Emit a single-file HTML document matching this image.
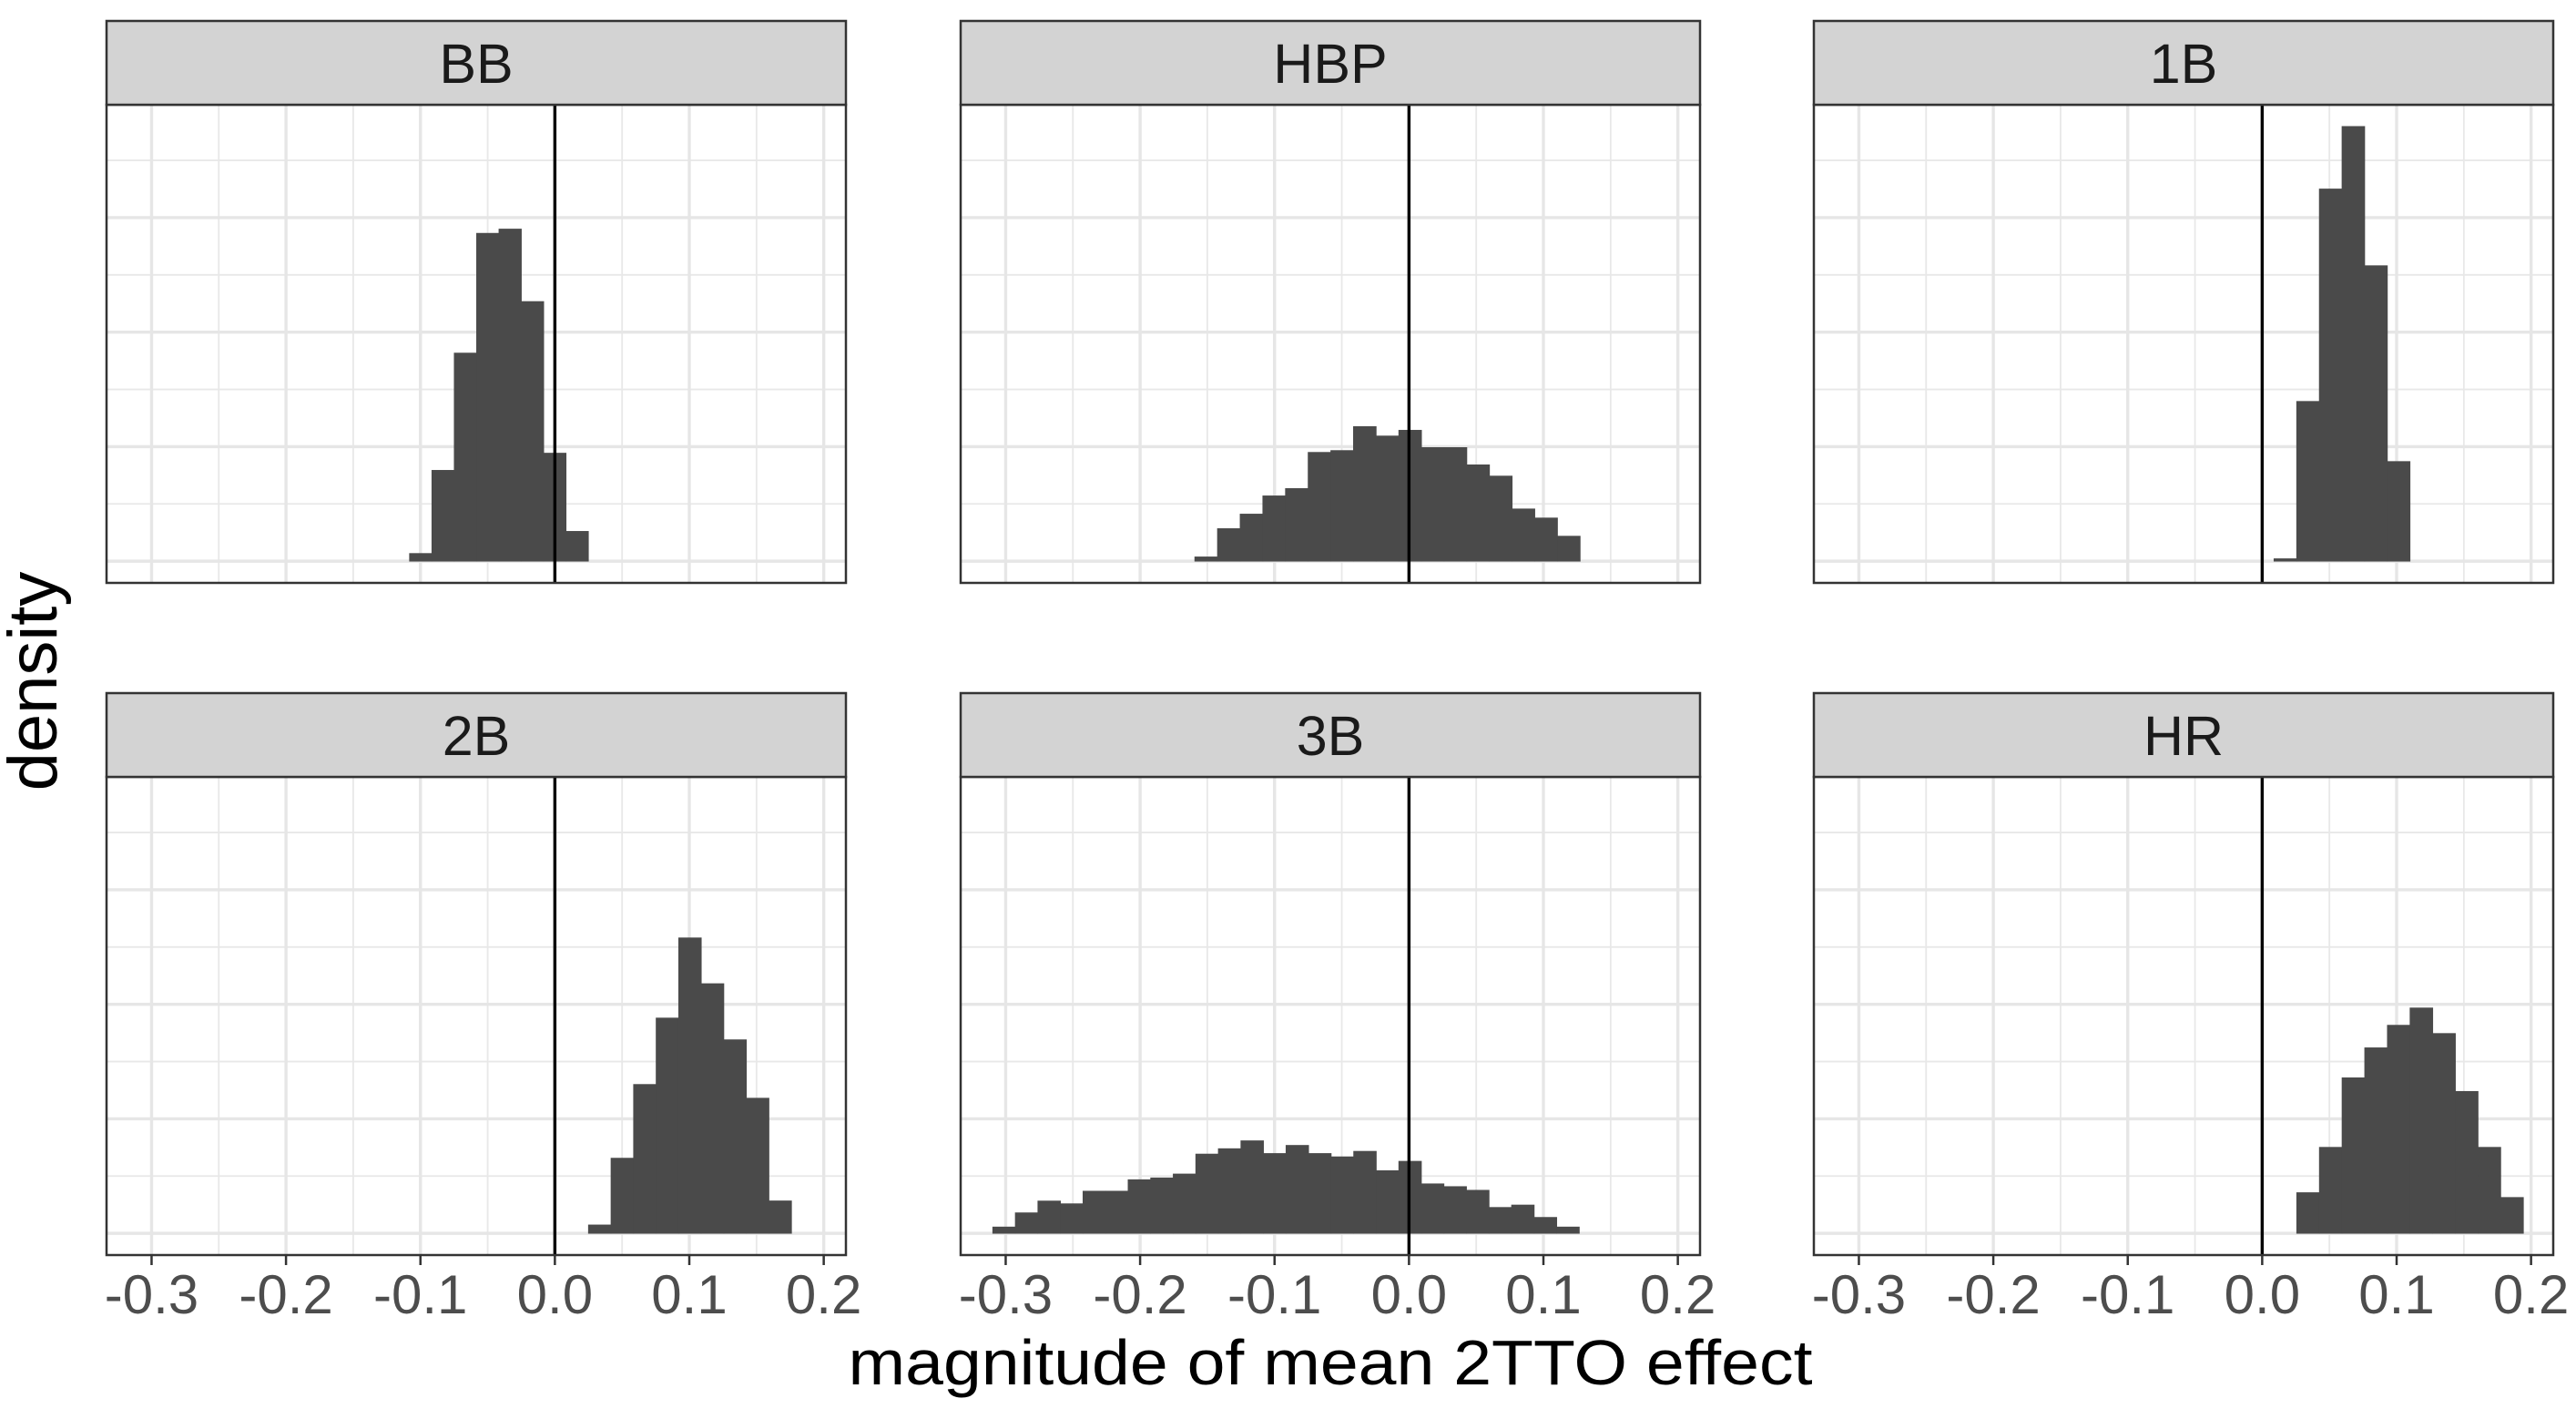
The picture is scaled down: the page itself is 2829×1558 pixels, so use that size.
<!DOCTYPE html>
<html><head><meta charset="utf-8"><style>
html,body{margin:0;padding:0;background:#fff}
svg{display:block}
text{font-family:"Liberation Sans",Arial,sans-serif}
</style></head><body>
<svg id="chart" width="2829" height="1558" viewBox="0 0 2829 1558" xmlns="http://www.w3.org/2000/svg">
<rect width="2829" height="1558" fill="#fff"/>
<text x="1461" y="1520" font-size="70" text-anchor="middle" textLength="1059" lengthAdjust="spacingAndGlyphs" fill="#000">magnitude of mean 2TTO effect</text>
<text transform="translate(62,748) rotate(-90)" font-size="76" text-anchor="middle" fill="#000">density</text>
</svg>
<script>
const panelNames = ["BB","HBP","1B","2B","3B","HR"];
const binStarts = [-0.1081, -0.1593, 0.0088, 0.025, -0.3096, 0.0257];
const binWidths = [0.01663, 0.01686, 0.01686, 0.01678, 0.01678, 0.01686];
const bbHeights = [0.67, 7.93, 18.17, 28.63, 29.0, 22.67, 9.43, 2.6];
const hbpHeights = [0.37, 2.84, 4.11, 5.70, 6.34, 9.50, 9.66, 11.75, 10.93, 11.43, 9.92, 9.92, 8.41, 7.43, 4.56, 3.77, 2.18];
const b1Heights = [0.21, 13.95, 32.5, 37.96, 25.8, 8.7];
const b2Heights = [0.73, 6.56, 13.0, 18.8, 25.8, 21.8, 16.9, 11.8, 2.83];
const b3Heights = [0.55, 1.79, 2.82, 2.58, 3.68, 3.68, 4.68, 4.84, 5.18, 6.92, 7.39, 8.08, 6.97, 7.68, 6.97, 6.68, 7.16, 5.47, 6.29, 4.32, 4.08, 3.76, 2.26, 2.47, 1.39, 0.55];
const hrHeights = [3.55, 7.51, 13.58, 16.2, 18.17, 19.68, 17.45, 12.39, 7.51, 3.13];
const xTicks = [-0.3, -0.2, -0.1, 0.0, 0.1, 0.2];
const xTickLabels = ["-0.3","-0.2","-0.1","0.0","0.1","0.2"];
const xMinor = [-0.25, -0.15, -0.05, 0.05, 0.15];
const yMajor = [0, 10, 20, 30];
const yMinor = [5, 15, 25, 35];

const allHeights = [bbHeights, hbpHeights, b1Heights, b2Heights, b3Heights, hrHeights];
const NS = "http://www.w3.org/2000/svg";
const svg = document.getElementById("chart");
const colLeft = [117, 1055, 1992];
const rowTop = [115, 853];
const stripH = 92;
const PW = 812, PH = 525;
const XMIN = -0.3335, XMAX = 0.2165;
let ymaxData = 0;
allHeights.forEach(a => a.forEach(v => { if (v > ymaxData) ymaxData = v; }));
const YMIN = -0.05 * ymaxData, YMAX = ymaxData * 1.05;

function mk(tag, attrs) {
  const e = document.createElementNS(NS, tag);
  for (const k in attrs) e.setAttribute(k, attrs[k]);
  return e;
}

for (let p = 0; p < 6; p++) {
  const col = p % 3, row = Math.floor(p / 3);
  const L = colLeft[col], T = rowTop[row];
  const xs = v => L + (v - XMIN) / (XMAX - XMIN) * PW;
  const ys = v => T + PH - (v - YMIN) / (YMAX - YMIN) * PH;
  const g = mk("g", {});
  
  
  svg.appendChild(g);
  g.appendChild(mk("rect", {x: L, y: T, width: PW, height: PH, fill: "#fff"}));
  yMinor.forEach(v => g.appendChild(mk("line", {x1: L, x2: L + PW, y1: ys(v), y2: ys(v), stroke: "#e8e8e8", "stroke-width": 1.8})));
  xMinor.forEach(v => g.appendChild(mk("line", {x1: xs(v), x2: xs(v), y1: T, y2: T + PH, stroke: "#e8e8e8", "stroke-width": 1.8})));
  yMajor.forEach(v => g.appendChild(mk("line", {x1: L, x2: L + PW, y1: ys(v), y2: ys(v), stroke: "#e6e6e6", "stroke-width": 3.4})));
  xTicks.forEach(v => g.appendChild(mk("line", {x1: xs(v), x2: xs(v), y1: T, y2: T + PH, stroke: "#e6e6e6", "stroke-width": 3.4})));
  const hs = allHeights[p];
  for (let i = 0; i < hs.length; i++) {
    const x0 = binStarts[p] + i * binWidths[p];
    const r = mk("rect", {x: xs(x0), y: ys(hs[i]), width: xs(x0 + binWidths[p]) - xs(x0), height: ys(0) - ys(hs[i]), fill: "#4a4a4a", stroke: "#4a4a4a", "stroke-width": 0.8});
    
    
    g.appendChild(r);
  }
  const zl = mk("line", {x1: xs(0), x2: xs(0), y1: T, y2: T + PH, stroke: "#000", "stroke-width": 3.4});
  
  
  g.appendChild(zl);
  g.appendChild(mk("rect", {x: L, y: T, width: PW, height: PH, fill: "none", stroke: "#333", "stroke-width": 2.5}));
  const st = mk("rect", {x: L, y: T - stripH, width: PW, height: stripH, fill: "#d3d3d3", stroke: "#333", "stroke-width": 2.5});
  
  
  g.appendChild(st);
  const lab = mk("text", {x: L + PW / 2, y: T - stripH / 2 + 22, "font-size": 61, "text-anchor": "middle", fill: "#1a1a1a"});
  lab.textContent = panelNames[p];
  
  
  g.appendChild(lab);
  if (row === 1) {
    xTicks.forEach((v, i) => {
      g.appendChild(mk("line", {x1: xs(v), x2: xs(v), y1: T + PH, y2: T + PH + 11, stroke: "#333", "stroke-width": 2.5}));
      const t = mk("text", {x: xs(v), y: 1442, "font-size": 60, "text-anchor": "middle", fill: "#4d4d4d"});
      t.textContent = xTickLabels[i];
      
      
      g.appendChild(t);
    });
  }
}
</script>
</body></html>
